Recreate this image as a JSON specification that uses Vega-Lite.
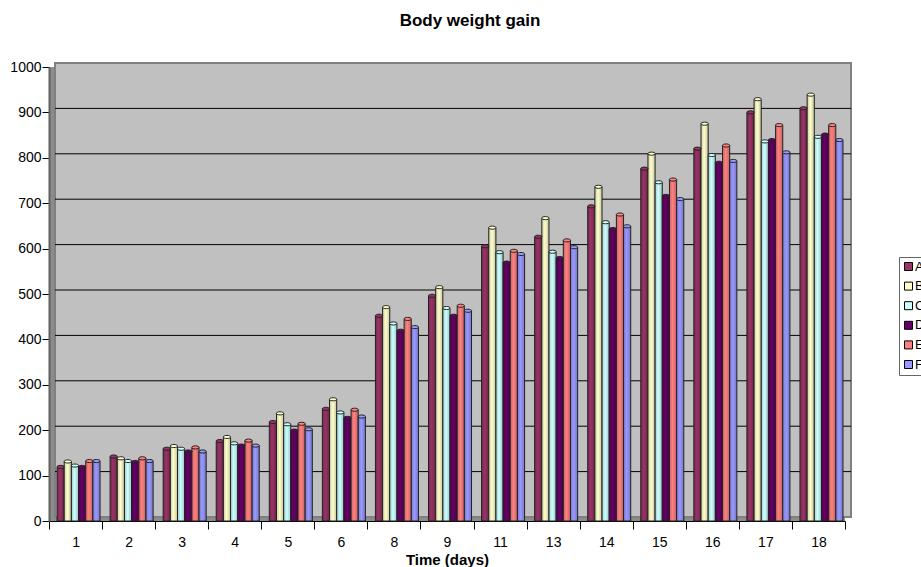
{"$schema":"https://vega.github.io/schema/vega-lite/v6.json","width":796,"height":454,"autosize":"none","padding":{"left":49,"top":67,"right":76,"bottom":46},"background":"#ffffff",
"title":{"text":"Body weight gain","font":"Liberation Sans","fontSize":17,"fontWeight":"bold","color":"#000000","anchor":"middle","dx":23,"offset":30},
"config":{"view":{"fill":"#8c8c8c","stroke":null},"font":"Liberation Sans"},
"datasets":{"wall":[{"low":0,"high":1000}],"grid":[{"v":100},{"v":200},{"v":300},{"v":400},{"v":500},{"v":600},{"v":700},{"v":800},{"v":900}],
"rows":[
{"day":1,"series":"A","value":118},{"day":1,"series":"B","value":130},{"day":1,"series":"C","value":121},{"day":1,"series":"D","value":118},{"day":1,"series":"E","value":131},{"day":1,"series":"F","value":131},
{"day":2,"series":"A","value":141},{"day":2,"series":"B","value":137},{"day":2,"series":"C","value":131},{"day":2,"series":"D","value":129},{"day":2,"series":"E","value":137},{"day":2,"series":"F","value":131},
{"day":3,"series":"A","value":158},{"day":3,"series":"B","value":164},{"day":3,"series":"C","value":158},{"day":3,"series":"D","value":152},{"day":3,"series":"E","value":161},{"day":3,"series":"F","value":152},
{"day":4,"series":"A","value":175},{"day":4,"series":"B","value":184},{"day":4,"series":"C","value":170},{"day":4,"series":"D","value":165},{"day":4,"series":"E","value":176},{"day":4,"series":"F","value":165},
{"day":5,"series":"A","value":217},{"day":5,"series":"B","value":236},{"day":5,"series":"C","value":212},{"day":5,"series":"D","value":198},{"day":5,"series":"E","value":213},{"day":5,"series":"F","value":201},
{"day":6,"series":"A","value":246},{"day":6,"series":"B","value":267},{"day":6,"series":"C","value":238},{"day":6,"series":"D","value":226},{"day":6,"series":"E","value":244},{"day":6,"series":"F","value":229},
{"day":8,"series":"A","value":451},{"day":8,"series":"B","value":470},{"day":8,"series":"C","value":434},{"day":8,"series":"D","value":418},{"day":8,"series":"E","value":444},{"day":8,"series":"F","value":426},
{"day":9,"series":"A","value":495},{"day":9,"series":"B","value":514},{"day":9,"series":"C","value":468},{"day":9,"series":"D","value":451},{"day":9,"series":"E","value":473},{"day":9,"series":"F","value":462},
{"day":11,"series":"A","value":604},{"day":11,"series":"B","value":645},{"day":11,"series":"C","value":591},{"day":11,"series":"D","value":568},{"day":11,"series":"E","value":594},{"day":11,"series":"F","value":587},
{"day":13,"series":"A","value":625},{"day":13,"series":"B","value":666},{"day":13,"series":"C","value":592},{"day":13,"series":"D","value":578},{"day":13,"series":"E","value":617},{"day":13,"series":"F","value":602},
{"day":14,"series":"A","value":692},{"day":14,"series":"B","value":735},{"day":14,"series":"C","value":657},{"day":14,"series":"D","value":642},{"day":14,"series":"E","value":674},{"day":14,"series":"F","value":648},
{"day":15,"series":"A","value":775},{"day":15,"series":"B","value":808},{"day":15,"series":"C","value":745},{"day":15,"series":"D","value":715},{"day":15,"series":"E","value":751},{"day":15,"series":"F","value":708},
{"day":16,"series":"A","value":819},{"day":16,"series":"B","value":874},{"day":16,"series":"C","value":805},{"day":16,"series":"D","value":788},{"day":16,"series":"E","value":826},{"day":16,"series":"F","value":792},
{"day":17,"series":"A","value":899},{"day":17,"series":"B","value":928},{"day":17,"series":"C","value":835},{"day":17,"series":"D","value":838},{"day":17,"series":"E","value":871},{"day":17,"series":"F","value":811},
{"day":18,"series":"A","value":908},{"day":18,"series":"B","value":938},{"day":18,"series":"C","value":845},{"day":18,"series":"D","value":850},{"day":18,"series":"E","value":871},{"day":18,"series":"F","value":838}
]},
"encoding":{"x":{"field":"day","type":"ordinal","scale":{"paddingInner":0,"paddingOuter":0},"axis":{"title":"Time (days)","titleFont":"Liberation Sans","titleFontSize":15,"titleFontWeight":"bold","titleColor":"#000000","titlePadding":3,"labelAngle":0,"labelFont":"Liberation Sans","labelFontSize":14,"labelColor":"#000000","labelPadding":6,"tickBand":"extent","tickSize":8,"tickColor":"#000000","domainColor":"#000000","domainWidth":1}},
"xOffset":{"field":"series","type":"nominal","scale":{"domain":["A","B","C","D","E","F"],"paddingInner":0,"paddingOuter":0.7,"align":0.8}},
"y":{"field":"value","type":"quantitative","scale":{"domain":[0,1000],"nice":false},"axis":{"values":[0,100,200,300,400,500,600,700,800,900,1000],"format":"d","title":null,"grid":false,"labelFont":"Liberation Sans","labelFontSize":14,"labelColor":"#000000","labelPadding":1,"tickColor":"#000000","tickSize":7,"domainColor":"#606060","domainWidth":2}}},
"data":{"name":"rows"},
"layer":[
{"data":{"name":"wall"},"mark":{"type":"rect","fill":"#c0c0c0","stroke":"#808080","strokeWidth":2,"xOffset":6,"x2Offset":6,"yOffset":-4,"y2Offset":-4},
"encoding":{"x":{"value":0},"x2":{"value":796},"xOffset":null,"y":{"field":"low","type":"quantitative"},"y2":{"field":"high"}}},
{"data":{"name":"grid"},"mark":{"type":"rule","color":"#000000","strokeWidth":1,"xOffset":6,"x2Offset":6,"yOffset":-4,"y2Offset":-4},
"encoding":{"x":{"value":0},"x2":{"value":796},"xOffset":null,"y":{"field":"v","type":"quantitative"}}},
{"transform":[{"filter":"datum.series==='A'"}],"mark":{"type":"bar","stroke":"#222222","strokeWidth":1,"fill":{"gradient":"linear","x1":0,"y1":0,"x2":1,"y2":0,"stops":[{"offset":0,"color":"#7a2850"},{"offset":0.45,"color":"#993366"},{"offset":1,"color":"#6e2549"}]}}},
{"transform":[{"filter":"datum.series==='B'"}],"mark":{"type":"bar","stroke":"#222222","strokeWidth":1,"fill":{"gradient":"linear","x1":0,"y1":0,"x2":1,"y2":0,"stops":[{"offset":0,"color":"#c9c9a0"},{"offset":0.45,"color":"#ffffcc"},{"offset":1,"color":"#c4c49c"}]}}},
{"transform":[{"filter":"datum.series==='C'"}],"mark":{"type":"bar","stroke":"#222222","strokeWidth":1,"fill":{"gradient":"linear","x1":0,"y1":0,"x2":1,"y2":0,"stops":[{"offset":0,"color":"#a0caca"},{"offset":0.45,"color":"#ccffff"},{"offset":1,"color":"#9cc4c4"}]}}},
{"transform":[{"filter":"datum.series==='D'"}],"mark":{"type":"bar","stroke":"#222222","strokeWidth":1,"fill":{"gradient":"linear","x1":0,"y1":0,"x2":1,"y2":0,"stops":[{"offset":0,"color":"#500050"},{"offset":0.45,"color":"#660066"},{"offset":1,"color":"#4a004a"}]}}},
{"transform":[{"filter":"datum.series==='E'"}],"mark":{"type":"bar","stroke":"#222222","strokeWidth":1,"fill":{"gradient":"linear","x1":0,"y1":0,"x2":1,"y2":0,"stops":[{"offset":0,"color":"#cc6666"},{"offset":0.45,"color":"#ff8080"},{"offset":1,"color":"#c46262"}]}}},
{"transform":[{"filter":"datum.series==='F'"}],"mark":{"type":"bar","stroke":"#222222","strokeWidth":1,"fill":{"gradient":"linear","x1":0,"y1":0,"x2":1,"y2":0,"stops":[{"offset":0,"color":"#7a7acc"},{"offset":0.45,"color":"#9999ff"},{"offset":1,"color":"#7676c4"}]}}},
{"mark":{"type":"point","yOffset":-0.5,"filled":true,"shape":"M-1,0 A1,0.42 0 1,1 1,0 A1,0.42 0 1,1 -1,0 Z","size":55,"stroke":"#222222","strokeWidth":1,"opacity":1},
"encoding":{"color":{"field":"series","type":"nominal","scale":{"domain":["A","B","C","D","E","F"],"range":["#993366","#ffffcc","#ccffff","#660066","#ff8080","#9999ff"]},
"legend":{"title":null,"orient":"none","legendX":850,"legendY":190,"symbolType":"square","symbolSize":64,"symbolStrokeColor":"#000000","symbolStrokeWidth":1,"symbolOpacity":1,"labelFont":"Liberation Sans","labelFontSize":13,"labelColor":"#000000","labelOffset":0,"rowPadding":5.6,"strokeColor":"#666666","padding":3,"fillColor":"#ffffff"}}}}
]}
